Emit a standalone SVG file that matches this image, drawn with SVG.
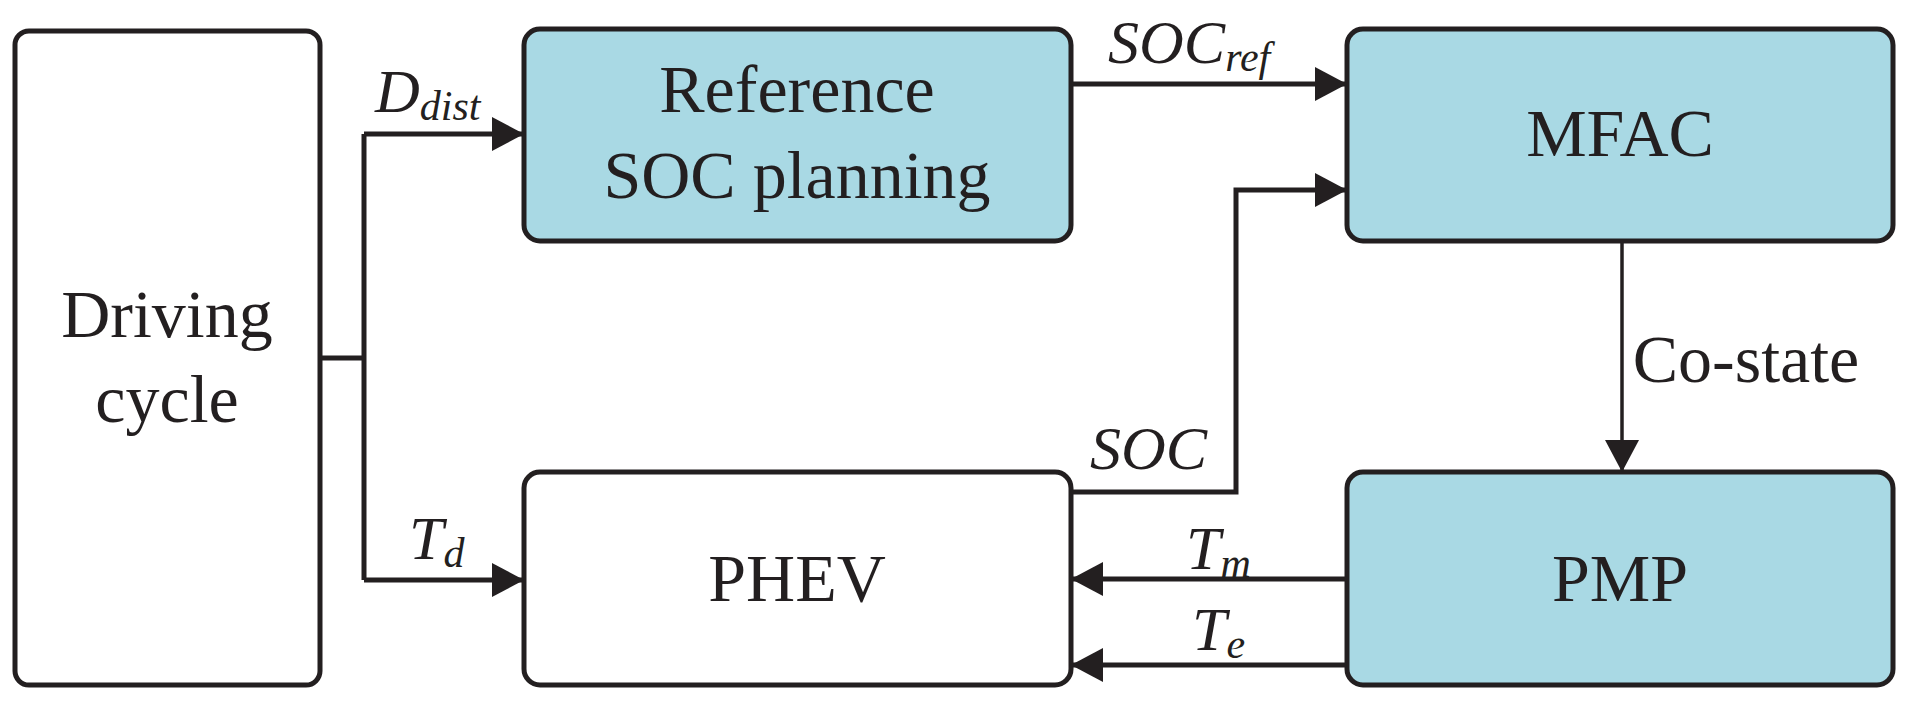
<svg xmlns="http://www.w3.org/2000/svg" width="1911" height="701" viewBox="0 0 1911 701">
<defs>
<style>
.box{stroke:#231f20;stroke-width:5;fill:#fff}
.blue{fill:#a9d9e4}
.t{font-family:"Liberation Serif",serif;font-size:68px;fill:#231f20;text-anchor:middle}
.l{font-family:"Liberation Serif",serif;font-style:italic;font-size:62px;fill:#231f20}
.s{font-size:42px}
.c{stroke:#231f20;stroke-width:5;fill:none}
</style>
<marker id="a" markerUnits="userSpaceOnUse" markerWidth="32" markerHeight="34" refX="30" refY="17" orient="auto"><path d="M0,0 L32,17 L0,34 Z" fill="#231f20"/></marker>
</defs>
<rect width="1911" height="701" fill="#fff"/>
<g id="driving"><rect class="box" x="15" y="31" width="305" height="654" rx="14"/><text class="t" x="167" y="337">Driving</text><text class="t" x="167" y="422">cycle</text></g>
<g id="refsoc"><rect class="box blue" x="524" y="29" width="547" height="212" rx="16"/><text class="t" x="797" y="112">Reference</text><text class="t" x="797" y="198">SOC planning</text></g>
<g id="mfac"><rect class="box blue" x="1347" y="29" width="546" height="212" rx="16"/><text class="t" x="1620" y="156">MFAC</text></g>
<g id="phev"><rect class="box" x="524" y="472" width="547" height="213" rx="16"/><text class="t" x="797" y="601">PHEV</text></g>
<g id="pmp"><rect class="box blue" x="1347" y="472" width="546" height="213" rx="16"/><text class="t" x="1620" y="601">PMP</text></g>
<g id="connectors">
<path class="c" d="M320,358 H364"/>
<path class="c" d="M364,134 V580"/>
<path class="c" d="M364,134 H522" marker-end="url(#a)"/>
<path class="c" d="M364,580 H522" marker-end="url(#a)"/>
<path class="c" d="M1071,84 H1345" marker-end="url(#a)"/>
<path class="c" d="M1071,492 H1236 V190 H1345" marker-end="url(#a)"/>
<path class="c" style="stroke-width:3.5" d="M1622,241 V470" marker-end="url(#a)"/>
<path class="c" d="M1347,579 H1073" marker-end="url(#a)"/>
<path class="c" d="M1347,665 H1073" marker-end="url(#a)"/>
</g>
<g id="labels">
<text class="l" x="375" y="112">D<tspan class="s" dy="8">dist</tspan></text>
<text class="l" x="1108" y="63">SOC<tspan class="s" dy="8">ref</tspan></text>
<text class="l" x="1090" y="469">SOC</text>
<text class="l" x="409" y="559">T<tspan class="s" dy="8">d</tspan></text>
<text class="l" x="1186" y="569">T<tspan class="s" dy="8">m</tspan></text>
<text class="l" x="1192" y="650">T<tspan class="s" dy="8">e</tspan></text>
<text class="t" x="1746" y="382">Co-state</text>
</g>
</svg>
